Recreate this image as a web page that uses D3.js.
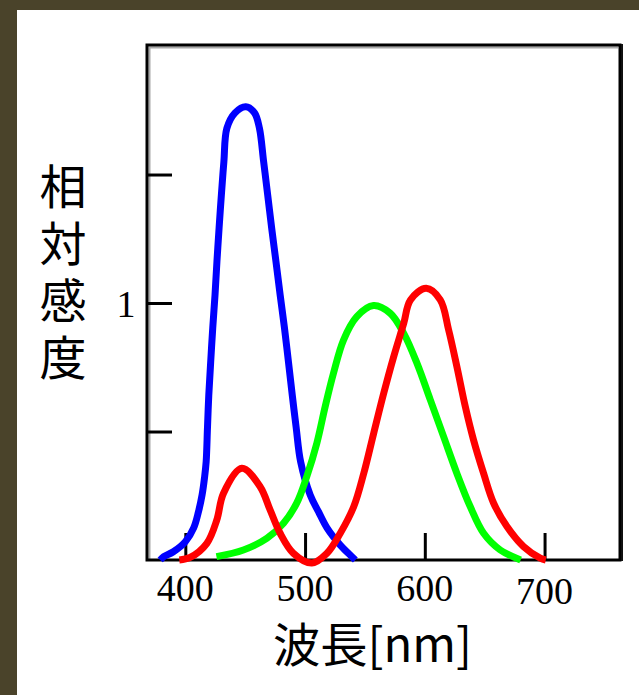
<!DOCTYPE html>
<html lang="ja">
<head>
<meta charset="utf-8">
<title>相対感度</title>
<script src="https://d3js.org/d3.v7.min.js"></script>
<style>
  html, body { margin: 0; padding: 0; background: #fff; }
  svg { display: block; }
</style>
</head>
<body>
<script>
// wavelength (nm) / relative sensitivity
var blueNm  = [379, 382, 390, 400, 407, 411, 414, 416, 417.4, 418.5, 419.6, 421.2, 422.9, 424.8, 426.4, 428.2, 430.1, 432.2, 434.7, 441.5, 450.5,
               457.8, 461.9, 465.4, 468.8, 472.1, 475.7, 479.2, 482.8, 486.1, 489.3, 492.6, 496.3, 504.3, 511.2, 518.3, 529.4, 539.1, 542];
var blueVal = [0.0, 0.013, 0.032, 0.071, 0.125, 0.188, 0.253, 0.319, 0.382, 0.514, 0.642, 0.772, 0.903, 1.031, 1.161, 1.292, 1.42, 1.55, 1.68, 1.74, 1.764,
               1.74, 1.68, 1.55, 1.42, 1.292, 1.161, 1.031, 0.903, 0.772, 0.642, 0.514, 0.382, 0.253, 0.188, 0.125, 0.058, 0.013, 0.0];

var greenNm  = [426, 448.5, 468, 482, 493, 501.4, 509.8, 516.8, 523.7, 532.1, 543.2, 557.1, 571.1, 582.4, 593.5, 604.6, 615.7, 626.8, 638, 649.1, 663, 680];
var greenVal = [0.013, 0.039, 0.084, 0.143, 0.221, 0.324, 0.454, 0.597, 0.726, 0.856, 0.947, 0.99, 0.96, 0.882, 0.765, 0.623, 0.48, 0.337, 0.207, 0.104, 0.039, 0.0];

var redNm  = [395, 404, 418, 426.3, 431.9, 447.2, 462.5, 470.8, 479.2, 490.3, 505.7, 518.3, 529.4, 540.6, 549, 557.3, 565.7, 574, 582.4, 588, 601.2,
              612.9, 619.9, 626.8, 633.8, 640.7, 649.1, 657.5, 668.6, 682.5, 696.4, 701];
var redVal = [0.0, 0.01, 0.065, 0.156, 0.26, 0.357, 0.285, 0.195, 0.104, 0.026, -0.012, 0.026, 0.104, 0.207, 0.337, 0.493, 0.649, 0.791, 0.921, 1.012, 1.057,
              1.012, 0.895, 0.752, 0.597, 0.467, 0.337, 0.221, 0.13, 0.052, 0.007, 0.0];

var xTicks = [400, 500, 600, 700];
var yTicks = [0.5, 1, 1.5];
var yTickLabels = {1: "1"};
var yTitle = "相対感度";
var xTitle = "波長[nm]";

var W = 639, H = 695;
var box = {left: 147, top: 45, right: 620, bottom: 560};

var svg = d3.select("body").append("svg")
    .attr("width", W)
    .attr("height", H);

// olive frame at the top and left
svg.append("rect").attr("x", 0).attr("y", 0).attr("width", W).attr("height", H).attr("fill", "#fff");
svg.append("rect").attr("x", 0).attr("y", 0).attr("width", W).attr("height", 10).attr("fill", "#4a432a");
svg.append("rect").attr("x", 0).attr("y", 0).attr("width", 17).attr("height", H).attr("fill", "#4a432a");

var x = d3.scaleLinear().domain([368, 763]).range([box.left, box.right]);
var y = d3.scaleLinear().domain([0, 2.004]).range([box.bottom, box.top]);

// grey inner shadow of the plot box
svg.append("path")
    .attr("d", "M" + (box.left + 2.5) + "," + (box.bottom) + "V" + (box.top + 2.5) + "H" + (box.right - 2))
    .attr("fill", "none").attr("stroke", "#a8a8a8").attr("stroke-width", 2);

svg.append("rect")
    .attr("x", box.left).attr("y", box.top)
    .attr("width", box.right - box.left).attr("height", box.bottom - box.top)
    .attr("fill", "none").attr("stroke", "#000").attr("stroke-width", 3);
svg.append("line")
    .attr("x1", box.right + 2).attr("x2", box.right + 2)
    .attr("y1", box.top - 1).attr("y2", box.bottom + 1)
    .attr("stroke", "#111").attr("stroke-width", 2);

// y ticks, drawn inward
var yAxis = svg.append("g").attr("transform", "translate(" + box.left + ",0)")
    .call(d3.axisRight(y).tickValues(yTicks).tickSize(25).tickFormat(""));
yAxis.select(".domain").remove();
yAxis.selectAll(".tick line").attr("stroke", "#000").attr("stroke-width", 3);

svg.selectAll(".ylab").data(yTicks.filter(function (d) { return yTickLabels[d]; }))
    .enter().append("text")
    .attr("class", "ylab")
    .attr("x", 126).attr("y", function (d) { return y(d) + 14; })
    .attr("text-anchor", "middle")
    .attr("font-family", "Liberation Serif, serif")
    .attr("font-size", 38)
    .attr("fill", "#000")
    .text(function (d) { return yTickLabels[d]; });

// x ticks, drawn inward
var xAxis = svg.append("g").attr("transform", "translate(0," + box.bottom + ")")
    .call(d3.axisTop(x).tickValues(xTicks).tickSize(27).tickFormat(""));
xAxis.select(".domain").remove();
xAxis.selectAll(".tick line").attr("stroke", "#000").attr("stroke-width", 3);

svg.selectAll(".xlab").data(xTicks).enter().append("text")
    .attr("class", "xlab")
    .attr("x", function (d) { return x(d); })
    .attr("y", function (d) { return d === 700 ? 604 : 601; })
    .attr("text-anchor", "middle")
    .attr("font-family", "Liberation Serif, serif")
    .attr("font-size", 38)
    .attr("fill", "#000")
    .text(function (d) { return d; });

// axis titles (y title set vertically, one glyph per line)
svg.append("text")
    .attr("x", 63)
    .attr("y", 163)
    .attr("writing-mode", "vertical-rl")
    .attr("letter-spacing", 10)
    .attr("font-family", "Noto Sans CJK JP, sans-serif")
    .attr("font-size", 47)
    .attr("fill", "#000")
    .text(yTitle);

svg.append("text")
    .attr("x", 273).attr("y", 662)
    .attr("textLength", 199)
    .attr("lengthAdjust", "spacingAndGlyphs")
    .attr("font-family", "Noto Sans CJK JP, sans-serif")
    .attr("font-size", 47)
    .attr("fill", "#000")
    .text(xTitle);

// curves
var line = d3.line()
    .x(function (d) { return x(d[0]); })
    .y(function (d) { return y(d[1]); })
    .curve(d3.curveCatmullRom.alpha(0.5));

function series(nm, val) {
    return nm.map(function (d, i) { return [d, val[i]]; });
}

var curves = [
    {pts: series(blueNm, blueVal), color: "#0000ff"},
    {pts: series(greenNm, greenVal), color: "#00ff00"},
    {pts: series(redNm, redVal), color: "#ff0000"}
];

svg.selectAll(".curve").data(curves).enter().append("path")
    .attr("class", "curve")
    .attr("d", function (d) { return line(d.pts); })
    .attr("fill", "none")
    .attr("stroke", function (d) { return d.color; })
    .attr("stroke-width", 7)
    .attr("stroke-linejoin", "round")
    .attr("stroke-linecap", "butt");
</script>
</body>
</html>
